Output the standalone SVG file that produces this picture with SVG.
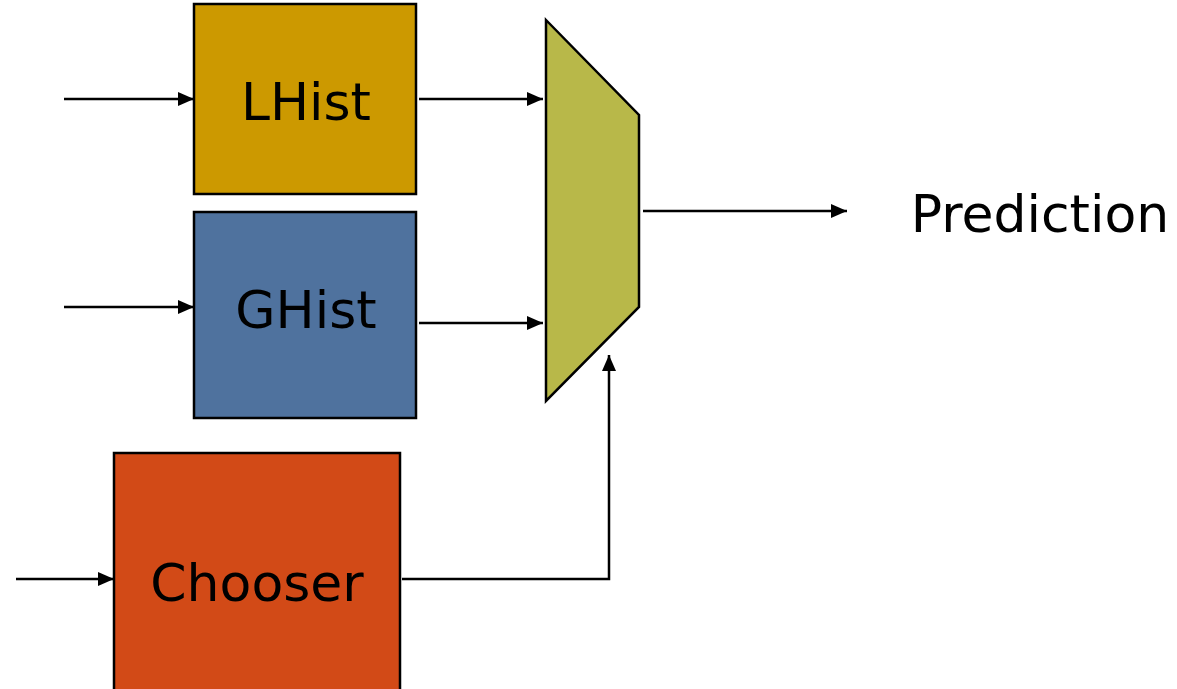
<svg xmlns="http://www.w3.org/2000/svg" width="1177" height="689" viewBox="0 0 1177 689">
<defs>
<style>
.box{stroke:#000;stroke-width:2.5}
.lbl{font-family:"DejaVu Sans","Liberation Sans",sans-serif;font-size:52px;fill:#000;text-anchor:middle}
.wire{fill:none;stroke:#000;stroke-width:2.5}
</style>
<marker id="ah" viewBox="0 0 16 14" refX="16" refY="7" markerWidth="16" markerHeight="14" markerUnits="userSpaceOnUse" orient="auto">
<path d="M0,0 L16,7 L0,14 Z" fill="#000"/>
</marker>
</defs>
<rect width="1177" height="689" fill="#fff"/>
<g id="lhist">
<rect class="box" x="194" y="4" width="222" height="190" fill="#CC9900"/>
<text class="lbl" x="306" y="120">LHist</text>
</g>
<g id="ghist">
<rect class="box" x="194" y="212" width="222" height="206" fill="#4F729E"/>
<text class="lbl" x="306" y="328">GHist</text>
</g>
<g id="chooser">
<rect class="box" x="114" y="453" width="286" height="240" fill="#D24A17"/>
<text class="lbl" x="257" y="601">Chooser</text>
</g>
<g id="mux">
<polygon class="box" points="546,20 639,115 639,307 546,401" fill="#B8B849"/>
</g>
<g id="prediction">
<text class="lbl" x="1040" y="232">Prediction</text>
</g>
<g id="connectors">
<line class="wire" x1="64" y1="99" x2="194" y2="99" marker-end="url(#ah)"/>
<line class="wire" x1="64" y1="307" x2="194" y2="307" marker-end="url(#ah)"/>
<line class="wire" x1="16" y1="579" x2="114" y2="579" marker-end="url(#ah)"/>
<line class="wire" x1="419" y1="99" x2="543" y2="99" marker-end="url(#ah)"/>
<line class="wire" x1="419" y1="323" x2="543" y2="323" marker-end="url(#ah)"/>
<line class="wire" x1="643" y1="211" x2="847" y2="211" marker-end="url(#ah)"/>
<polyline class="wire" points="402,579 609,579 609,355" marker-end="url(#ah)"/>
</g>
</svg>
